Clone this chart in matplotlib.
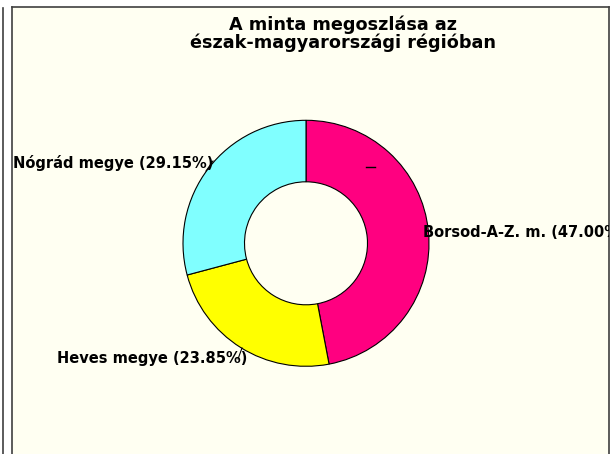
import matplotlib
matplotlib.use('Agg')
import matplotlib.pyplot as plt
from matplotlib.lines import Line2D

# data
regions = ['Borsod-A-Z. m.', 'Heves megye', 'Nógrád megye']
shares = [47.00, 23.85, 29.15]
colors = ['#FF0080', '#FFFF00', '#80FFFF']
title = 'A minta megoszlása az\nészak-magyarországi régióban'

W, H = 613, 454
fig = plt.figure(figsize=(W / 100, H / 100), dpi=100, facecolor='white')

# chart area (pixel coords: left 12, right 609, top 7, bottom cut off)
left, right, top = 12, 609, 7
bg = fig.add_axes([left / W, 0, (right - left) / W, (H - top) / H])
bg.set_xlim(left, right)
bg.set_ylim(H, top)
bg.set_facecolor('#FFFFF2')
bg.set_xticks([])
bg.set_yticks([])
for s in ['left', 'top', 'right']:
    bg.spines[s].set_color('#404040')
    bg.spines[s].set_linewidth(1.2)
bg.spines['bottom'].set_visible(False)

# thin line at far left
fig.add_artist(Line2D([3 / W, 3 / W], [0, (H - 8) / H], color='#404040', lw=1.2))

# donut
cx, cy, r = 306, 243.3, 123
pie_ax = fig.add_axes([(cx - r) / W, (H - cy - r) / H, 2 * r / W, 2 * r / H])
pie_ax.pie(shares, colors=colors, startangle=90, counterclock=False, radius=1,
           wedgeprops=dict(width=0.5, edgecolor='black', linewidth=0.8))
pie_ax.set_xlim(-1, 1)
pie_ax.set_ylim(-1, 1)
pie_ax.set_aspect('equal')
pie_ax.axis('off')

# title (baseline of the last line)
fig.text(343 / W, 1 - 48 / H, title, ha='center', va='baseline',
         fontsize=12.7, fontweight='bold', family='DejaVu Sans', linespacing=0.95)

# labels with their leader lines
label_pos = {'Borsod-A-Z. m.': (423, 237), 'Heves megye': (57, 363), 'Nógrád megye': (13, 168)}
for name, val in zip(regions, shares):
    x, y = label_pos[name]
    t = fig.text(x, y, f'{name} ({val:.2f}%)', transform=bg.transData,
                 ha='left', va='baseline', fontsize=10.5, fontweight='bold',
                 family='DejaVu Sans')
    t.set_clip_box(bg.bbox)
    t.set_clip_on(True)

fig.add_artist(Line2D([206, 213], [171, 161], transform=bg.transData, color='black', lw=0.8))
fig.add_artist(Line2D([238, 242], [359, 348], transform=bg.transData, color='black', lw=0.8))
fig.add_artist(Line2D([366, 375], [167, 167], transform=bg.transData, color='black', lw=1.0))

fig.savefig('out.png', dpi=100, facecolor='white')
